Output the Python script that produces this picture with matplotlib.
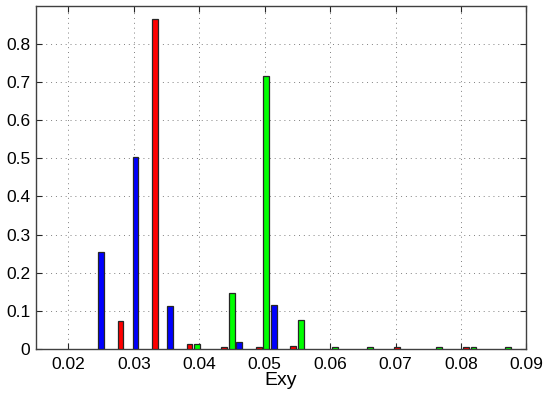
import matplotlib
matplotlib.use("Agg")
import matplotlib.pyplot as plt
import numpy as np

plt.rcParams['font.family'] = ['Liberation Sans', 'DejaVu Sans']

bin_centers = [0.02382, 0.02910, 0.03439, 0.03967, 0.04495, 0.05024, 0.05552,
               0.06080, 0.06608, 0.07137, 0.07665, 0.08193, 0.08722]
red_vals   = [0.0, 0.074, 0.865, 0.014, 0.004, 0.004, 0.009, 0.0, 0.0, 0.004, 0.0, 0.004, 0.0]
green_vals = [0.0, 0.0, 0.0, 0.014, 0.146, 0.716, 0.075, 0.004, 0.004, 0.0, 0.004, 0.004, 0.004]
blue_vals  = [0.254, 0.502, 0.112, 0.0, 0.0175, 0.115, 0.0, 0.0, 0.0, 0.0, 0.0, 0.0, 0.0]
x_ticks = [0.02, 0.03, 0.04, 0.05, 0.06, 0.07, 0.08, 0.09]
y_ticks = [0, 0.1, 0.2, 0.3, 0.4, 0.5, 0.6, 0.7, 0.8]

fig = plt.figure(figsize=(5.5, 4), dpi=100)
ax = fig.add_axes([0.065, 0.1275, 0.892, 0.8585])

centers = np.array(bin_centers)
offset = 0.00115
width = 0.00088
series = [(red_vals, '#ff0000', -offset), (green_vals, '#00ff00', 0.0), (blue_vals, '#0000ff', offset)]
for vals, col, off in series:
    v = np.array(vals)
    m = v > 0
    ax.bar(centers[m] + off, v[m], width=width, color=col, edgecolor='#262626',
           linewidth=0.9, zorder=3)

ax.set_xlim(0.015, 0.09)
ax.set_ylim(0, 0.9)
ax.set_xticks(x_ticks)
ax.set_xticklabels([f"{t:.2f}" for t in x_ticks])
ax.set_yticks(y_ticks)
ax.set_yticklabels(["0"] + [f"{t:.1f}" for t in y_ticks[1:]])
ax.tick_params(direction='in', top=True, right=True, length=4, width=0.8,
               labelsize=12.5, colors='#262626', labelcolor='black')
ax.tick_params(axis='x', pad=6)
ax.tick_params(axis='y', pad=4)
ax.grid(True, linestyle=(0, (1, 4)), color='#808080', linewidth=0.7, zorder=0)
for s in ax.spines.values():
    s.set_color('#404040')
    s.set_linewidth(1.0)
ax.set_xlabel('Exy', fontsize=14, labelpad=0)

fig.savefig('out.png', dpi=100)
